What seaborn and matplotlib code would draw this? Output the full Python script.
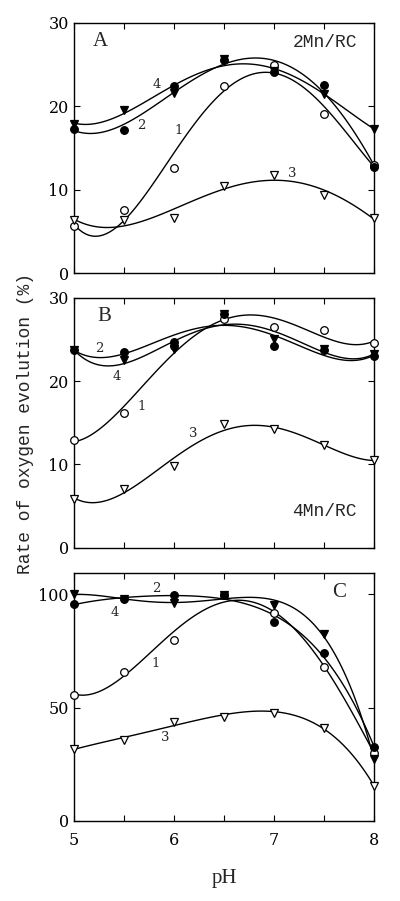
import numpy as np
import pandas as pd
import matplotlib
matplotlib.use("Agg")
import matplotlib.pyplot as plt
import seaborn as sns

# pH values shared by all panels
ph = [5.0, 5.5, 6.0, 6.5, 7.0, 7.5, 8.0]

# panel A, 2Mn/RC
a_1 = [5.6, 7.5, 12.6, 22.4, 24.9, 19.1, 13.0]
a_2 = [17.3, 17.1, 22.4, 25.5, 24.1, 22.6, 12.7]
a_3 = [6.3, 6.4, 6.6, 10.4, 11.7, 9.4, 6.6]
a_4 = [17.9, 19.6, 21.6, 25.7, 24.2, 21.5, 17.3]

# panel B, 4Mn/RC
b_1 = [12.9, 16.2, 24.2, 27.5, 26.5, 26.1, 24.6]
b_2 = [23.7, 23.5, 24.7, 28.1, 24.2, 23.7, 23.0]
b_3 = [5.9, 7.1, 9.8, 14.9, 14.2, 12.3, 10.5]
b_4 = [23.7, 22.5, 23.8, 28.0, 25.1, 23.8, 23.2]

# panel C
c_1 = [55.6, 65.9, 79.9, 99.5, 91.6, 68.1, 30.1]
c_2 = [95.6, 97.8, 99.7, 99.7, 87.9, 74.0, 32.5]
c_3 = [31.8, 35.7, 43.8, 46.0, 47.8, 41.2, 15.4]
c_4 = [100.0, 97.8, 96.0, 99.7, 95.3, 82.5, 27.2]

# curve number labels (x, y) per panel
a_tags = {"1": (6.05, 17.1), "2": (5.68, 17.7), "3": (7.18, 11.9), "4": (5.83, 22.6)}
b_tags = {"1": (5.68, 17.0), "2": (5.26, 23.9), "3": (6.19, 13.7), "4": (5.43, 20.5)}
c_tags = {"1": (5.82, 69.6), "2": (5.83, 102.6), "3": (5.92, 36.8), "4": (5.41, 91.9)}

styles = {
    "1": dict(marker="o", mfc="white"),
    "2": dict(marker="o", mfc="black"),
    "3": dict(marker="v", mfc="white"),
    "4": dict(marker="v", mfc="black"),
}

sns.set_theme(style="ticks")
plt.rcParams["font.family"] = ["DejaVu Serif"]

fig = plt.figure(figsize=(4.0, 9.01), dpi=100)
left, width = 0.184, 0.751
ax_a = fig.add_axes([left, 0.697, width, 0.2775])
ax_b = fig.add_axes([left, 0.392, width, 0.2775])
ax_c = fig.add_axes([left, 0.0888, width, 0.2755])

panels = [
    (ax_a, {"1": a_1, "2": a_2, "3": a_3, "4": a_4}, a_tags, 30, [0, 10, 20, 30]),
    (ax_b, {"1": b_1, "2": b_2, "3": b_3, "4": b_4}, b_tags, 30, [0, 10, 20, 30]),
    (ax_c, {"1": c_1, "2": c_2, "3": c_3, "4": c_4}, c_tags, 109.5, [0, 50, 100]),
]

for ax, series, tags, ytop, yticks in panels:
    for key, vals in series.items():
        df = pd.DataFrame({"pH": ph, "rate": vals})
        sns.regplot(data=df, x="pH", y="rate", order=4, ci=None, scatter=False,
                    ax=ax, line_kws=dict(color="black", lw=1.0))
        ax.plot(ph, vals, ls="none", mec="black", mew=0.9, ms=5.5, zorder=5,
                clip_on=False, **styles[key])
        tx, ty = tags[key]
        ax.text(tx, ty, key, fontsize=9.5, ha="center", va="center")
    ax.set_xlim(5, 8)
    ax.set_ylim(0, ytop)
    ax.set_yticks(yticks)
    ax.set_xticks(np.arange(5, 8.01, 0.5))
    ax.set_xlabel("")
    ax.set_ylabel("")
    ax.tick_params(direction="in", top=True, right=True, length=4, width=0.8,
                   labelsize=11.5, colors="black")
    for s in ax.spines.values():
        s.set_linewidth(1.0)
        s.set_color("black")
    ax.set_xticklabels([])

ax_c.set_xticklabels(["5", "", "6", "", "7", "", "8"])
ax_c.tick_params(axis="x", pad=8)

ax_a.text(0.065, 0.963, "A", transform=ax_a.transAxes, fontsize=15,
          family="Liberation Serif", va="top")
ax_b.text(0.078, 0.963, "B", transform=ax_b.transAxes, fontsize=15,
          family="Liberation Serif", va="top")
ax_c.text(0.862, 0.96, "C", transform=ax_c.transAxes, fontsize=15,
          family="Liberation Serif", va="top")
ax_a.text(0.945, 0.92, "2Mn/RC", transform=ax_a.transAxes, fontsize=13,
          family="Liberation Mono", ha="right", va="center")
ax_b.text(7.83, 4.4, "4Mn/RC", fontsize=13,
          family="Liberation Mono", ha="right", va="center")

fig.text(0.063, 0.530, "Rate of oxygen evolution (%)", rotation=90,
         fontsize=13, family="Liberation Mono", ha="center", va="center")
fig.text(0.56, 0.025, "pH", fontsize=15, family="Liberation Serif",
         ha="center", va="center")

fig.savefig("out.png", dpi=100)
